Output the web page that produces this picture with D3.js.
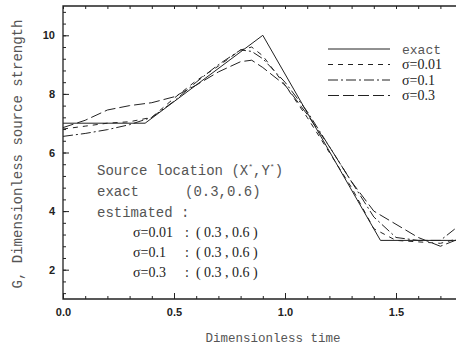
<!DOCTYPE html>
<html>
<head>
<meta charset="utf-8">
<script src="https://cdn.jsdelivr.net/npm/d3@7"></script>
<style>
  html, body { margin: 0; padding: 0; background: #fff; }
  svg { display: block; }
</style>
</head>
<body>
<svg id="chart" width="456" height="350"></svg>
<script>
// Source strength histories: exact and estimated with different measurement noise
const exactT   = [0, 0.37, 0.9, 1.43, 1.8];
const exactV   = [7, 7, 10, 3, 3];

const noiseT   = [0, 0.1, 0.2, 0.3, 0.4, 0.5, 0.6, 0.7, 0.8, 0.85, 0.9, 1.0, 1.1, 1.2, 1.3, 1.4, 1.5, 1.6, 1.7, 1.8];
const sig001V  = [6.8, 6.9, 7.0, 7.05, 7.2, 7.85, 8.45, 8.95, 9.5, 9.6, 9.3, 8.3, 7.2, 6.0, 4.8, 3.4, 3.0, 2.95, 2.9, 3.1];
const sig01V   = [6.55, 6.65, 6.78, 6.95, 7.2, 7.75, 8.4, 9.0, 9.5, 9.45, 9.2, 8.4, 7.4, 6.2, 5.0, 3.8, 3.1, 3.0, 3.0, 3.6];
const sig03V   = [6.85, 7.1, 7.45, 7.6, 7.7, 7.9, 8.3, 8.75, 9.1, 9.15, 8.9, 8.3, 7.3, 6.2, 5.0, 4.0, 3.55, 3.1, 2.8, 3.1];

const xMajor = [0, 0.5, 1.0, 1.5];
const yMajor = [2, 4, 6, 8, 10];

const legendNames = ["exact", "σ=0.01", "σ=0.1", "σ=0.3"];
const estimateNames = ["σ=0.01", "σ=0.1", "σ=0.3"];
const estimateLoc = ["( 0.3 , 0.6 )", "( 0.3 , 0.6 )", "( 0.3 , 0.6 )"];

const svg = d3.select("#chart");
const L = 63, T = 6, B = 299, R = 456;

const x = d3.scaleLinear().domain([0, 1.8]).range([L, L + 1.8 * 222]);
const y = d3.scaleLinear().domain([1, 11]).range([B, T]);

const ink = "#222";
const soft = "#555";
const mono = "'Liberation Mono', 'DejaVu Sans Mono', monospace";
const serif = "'Liberation Serif', 'DejaVu Serif', serif";
const sans = "'Liberation Sans', Arial, sans-serif";

svg.append("defs").append("clipPath").attr("id", "plot")
  .append("rect").attr("x", L).attr("y", T).attr("width", R - L + 10).attr("height", B - T);

// Axes: ticks point into the plot
const xMinor = d3.range(0, 1.81, 0.1);
const yMinor = d3.range(1.2, 11, 0.4);

svg.append("g").attr("transform", `translate(0,${B})`)
  .call(d3.axisBottom(x).tickValues(xMinor).tickSize(-3).tickFormat(""))
  .call(g => g.select(".domain").remove());
svg.append("g").attr("transform", `translate(0,${B})`)
  .call(d3.axisBottom(x).tickValues(xMajor).tickSize(-6).tickPadding(9).tickFormat(d3.format(".1f")))
  .call(g => g.select(".domain").remove())
  .call(g => g.selectAll("text").attr("font-family", sans).attr("font-weight", "bold").attr("font-size", 11).attr("fill", ink));

svg.append("g").attr("transform", `translate(0,${T})`)
  .call(d3.axisTop(x).tickValues(xMinor).tickSize(-3).tickFormat(""))
  .call(g => g.select(".domain").remove());

svg.append("g").attr("transform", `translate(${L},0)`)
  .call(d3.axisLeft(y).tickValues(yMinor).tickSize(-3).tickFormat(""))
  .call(g => g.select(".domain").remove());
svg.append("g").attr("transform", `translate(${L},0)`)
  .call(d3.axisLeft(y).tickValues(yMajor).tickSize(-6).tickPadding(8).tickFormat(d3.format("d")))
  .call(g => g.select(".domain").remove())
  .call(g => g.selectAll("text").attr("font-family", sans).attr("font-weight", "bold").attr("font-size", 11).attr("fill", ink));

svg.selectAll(".tick line").attr("stroke", ink);

// Frame
svg.append("path")
  .attr("d", `M${R + 5},${T}H${L}V${B}H${R + 5}`)
  .attr("fill", "none").attr("stroke", ink).attr("stroke-width", 1.3);

// Curves
const series = [
  { t: exactT, v: exactV, dash: null },
  { t: noiseT, v: sig001V, dash: "5,5" },
  { t: noiseT, v: sig01V, dash: "10,3,2,3" },
  { t: noiseT, v: sig03V, dash: "11,4" }
];
const line = d3.line().x(d => x(d[0])).y(d => y(d[1]));
const curves = svg.append("g").attr("clip-path", "url(#plot)");
series.forEach(s => {
  curves.append("path")
    .datum(s.t.map((t, i) => [t, s.v[i]]))
    .attr("d", line)
    .attr("fill", "none")
    .attr("stroke", ink)
    .attr("stroke-width", 1)
    .attr("stroke-dasharray", s.dash);
});

// Legend
const legendY = [49, 64.5, 80, 95.5];
legendNames.forEach((name, i) => {
  svg.append("line")
    .attr("x1", 328).attr("x2", 390)
    .attr("y1", legendY[i]).attr("y2", legendY[i])
    .attr("stroke", ink).attr("stroke-width", 1)
    .attr("stroke-dasharray", series[i].dash);
  svg.append("text")
    .attr("x", 402).attr("y", legendY[i]).attr("dy", "0.35em")
    .attr("font-family", i === 0 ? mono : serif)
    .attr("font-size", i === 0 ? 13 : 14)
    .attr("fill", i === 0 ? soft : ink)
    .text(name);
});

// Annotation block
const note = svg.append("g");
const src = note.append("text").attr("x", 97).attr("y", 175)
  .attr("font-family", mono).attr("font-size", 14).attr("fill", soft);
src.append("tspan").text("Source location (X");
src.append("tspan").attr("font-size", 8).attr("dy", -6).text("*");
src.append("tspan").attr("dy", 6).text(",Y");
src.append("tspan").attr("font-size", 8).attr("dy", -6).text("*");
src.append("tspan").attr("dy", 6).text(")");

note.append("text").attr("x", 97).attr("y", 196).attr("fill", soft)
  .attr("font-family", mono).attr("font-size", 14).text("exact");
note.append("text").attr("x", 185).attr("y", 196).attr("fill", soft)
  .attr("font-family", mono).attr("font-size", 14).text("(0.3,0.6)");
note.append("text").attr("x", 97).attr("y", 217).attr("fill", soft)
  .attr("font-family", mono).attr("font-size", 14).text("estimated :");

const rowY = [237, 257, 277];
estimateNames.forEach((n, i) => {
  note.append("text").attr("x", 133).attr("y", rowY[i]).attr("fill", ink)
    .attr("font-family", serif).attr("font-size", 14).text(n);
  note.append("text").attr("x", 185).attr("y", rowY[i]).attr("fill", ink)
    .attr("font-family", serif).attr("font-size", 14)
    .attr("xml:space", "preserve").text(":  " + estimateLoc[i]);
});

// Axis titles
svg.append("text")
  .attr("transform", "translate(22,154) rotate(-90)")
  .attr("text-anchor", "middle")
  .attr("font-family", mono).attr("font-size", 14).attr("fill", soft)
  .text("G, Dimensionless source strength");

svg.append("text")
  .attr("x", 273).attr("y", 342)
  .attr("text-anchor", "middle")
  .attr("font-family", mono).attr("font-size", 12.5).attr("fill", soft)
  .text("Dimensionless time");
</script>
</body>
</html>
